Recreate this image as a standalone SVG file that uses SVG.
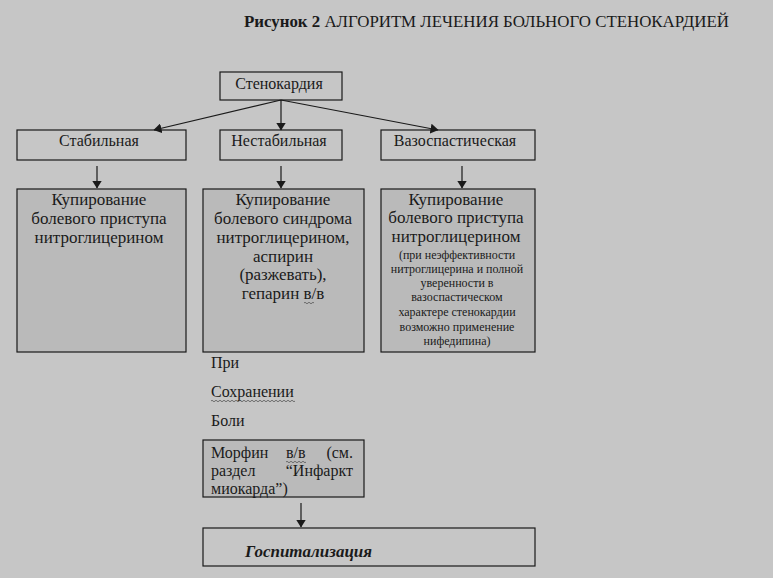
<svg xmlns="http://www.w3.org/2000/svg" width="773" height="578" viewBox="0 0 773 578">
<defs>
<marker id="ah" markerWidth="8" markerHeight="10" refX="7.5" refY="5" orient="auto" markerUnits="userSpaceOnUse">
<path d="M0,0 L8,5 L0,10 Z" fill="#1a1a1a"/>
</marker>
</defs>
<style>
text{font-family:"Liberation Serif","Times New Roman",serif;fill:#1a1a1a}
.t{font-size:16px}
.b{font-size:17px}
.c{text-anchor:middle}
.s{font-size:12px}
.box{fill:none;stroke:#1a1a1a;stroke-width:1.2}
.gbox{fill:#bababa;stroke:#1a1a1a;stroke-width:1.2}
.ln{stroke:#1a1a1a;stroke-width:1.2;fill:none;marker-end:url(#ah)}
.wave{fill:none;stroke:#555;stroke-width:0.8}
</style>
<rect width="773" height="578" fill="#c6c6c6"/>
<g id="title">
<text x="244" y="27" class="t" textLength="485" lengthAdjust="spacingAndGlyphs"><tspan font-weight="bold">Рисунок 2</tspan> АЛГОРИТМ ЛЕЧЕНИЯ БОЛЬНОГО СТЕНОКАРДИЕЙ</text>
</g>
<g id="connectors">
<line class="ln" x1="281" y1="100" x2="154" y2="130"/>
<line class="ln" x1="281" y1="100" x2="281" y2="130"/>
<line class="ln" x1="281" y1="100" x2="438" y2="130"/>
<line class="ln" x1="97" y1="166" x2="97" y2="188"/>
<line class="ln" x1="281" y1="166" x2="281" y2="188"/>
<line class="ln" x1="462" y1="166" x2="462" y2="188"/>
<line class="ln" x1="301" y1="503" x2="301" y2="527"/>
</g>
<g id="n-stenokardia">
<rect class="box" x="220" y="72" width="122" height="28"/>
<text class="t c" x="279" y="89">Стенокардия</text>
</g>
<g id="n-stable">
<rect class="box" x="17" y="130" width="169" height="30"/>
<text class="t c" x="99" y="146">Стабильная</text>
</g>
<g id="n-unstable">
<rect class="box" x="220" y="130" width="122" height="30"/>
<text class="t c" x="279" y="146">Нестабильная</text>
</g>
<g id="n-vaso">
<rect class="box" x="381" y="130" width="154" height="30"/>
<text class="t c" x="455" y="146">Вазоспастическая</text>
</g>
<g id="n-stable-tx">
<rect class="gbox" x="17" y="189" width="169" height="163"/>
<text class="b c" x="99"><tspan x="99" y="205">Купирование</tspan><tspan x="99" y="224">болевого приступа</tspan><tspan x="99" y="243">нитроглицерином</tspan></text>
</g>
<g id="n-unstable-tx">
<rect class="gbox" x="203" y="189" width="161" height="163"/>
<text class="b c" x="283"><tspan x="283" y="205">Купирование</tspan><tspan x="283" y="224">болевого синдрома</tspan><tspan x="283" y="243">нитроглицерином,</tspan><tspan x="283" y="262">аспирин</tspan><tspan x="283" y="280">(разжевать),</tspan><tspan x="283" y="299">гепарин в/в</tspan></text>
<path class="wave" d="M304,303 q1,-1.5 2,0 t2,0 t2,0 t2,0 t2,0"/>
</g>
<g id="n-vaso-tx">
<rect class="gbox" x="381" y="189" width="154" height="163"/>
<text class="b c" x="456"><tspan x="456" y="205">Купирование</tspan><tspan x="456" y="223">болевого приступа</tspan><tspan x="456" y="242">нитроглицерином</tspan></text>
<text class="s c" x="457"><tspan x="457" y="259">(при неэффективности</tspan><tspan x="457" y="273">нитроглицерина и полной</tspan><tspan x="457" y="287">уверенности в</tspan><tspan x="457" y="301">вазоспастическом</tspan><tspan x="457" y="316">характере стенокардии</tspan><tspan x="457" y="331">возможно применение</tspan><tspan x="457" y="345">нифедипина)</tspan></text>
</g>
<g id="n-condition">
<text class="t" x="211" y="368">При</text>
<text class="t" x="211" y="397">Сохранении</text>
<path class="wave" d="M211,401 q1,-1.5 2,0 t2,0 t2,0 t2,0 t2,0 t2,0 t2,0 t2,0 t2,0 t2,0 t2,0 t2,0 t2,0 t2,0 t2,0 t2,0 t2,0 t2,0 t2,0 t2,0 t2,0 t2,0 t2,0 t2,0 t2,0 t2,0 t2,0 t2,0 t2,0 t2,0 t2,0 t2,0 t2,0 t2,0 t2,0 t2,0 t2,0 t2,0 t2,0 t2,0 t2,0 t2,0"/>
<text class="t" x="211" y="426">Боли</text>
</g>
<g id="n-morphine">
<rect class="gbox" x="203" y="440" width="161" height="57"/>
<text class="t" x="211" y="458">Морфин</text>
<text class="t" x="286" y="458">в/в</text>
<path class="wave" d="M286,462 q1,-1.5 2,0 t2,0 t2,0 t2,0 t2,0 t2,0 t2,0 t2,0 t2,0 t2,0"/>
<text class="t" x="353" y="458" text-anchor="end">(см.</text>
<text class="t" x="211" y="476">раздел</text>
<text class="t" x="353" y="476" text-anchor="end">“Инфаркт</text>
<text class="t" x="211" y="494">миокарда”)</text>
</g>
<g id="n-hosp">
<rect class="box" x="203" y="528" width="332" height="38"/>
<text class="b" x="245" y="557" font-weight="bold" font-style="italic">Госпитализация</text>
</g>
</svg>
